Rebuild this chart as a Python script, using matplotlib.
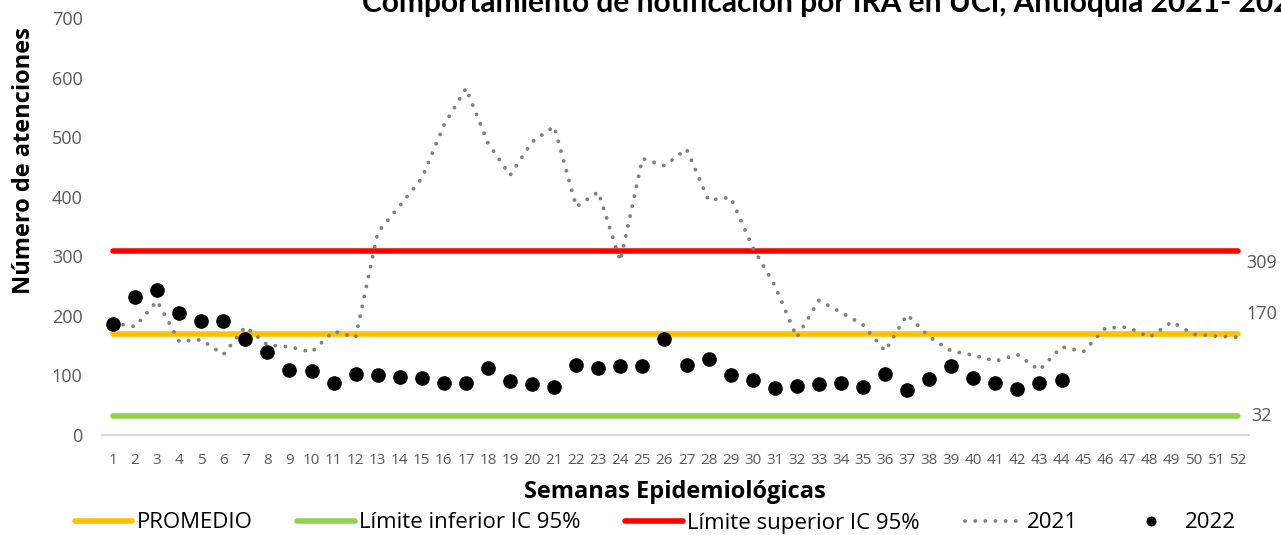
import numpy as np
import matplotlib.pyplot as plt

plt.rcParams['font.family'] = ['Open Sans', 'DejaVu Sans']

semanas = list(range(1, 53))
casos_2021 = [188, 182, 225, 157, 160, 135, 182, 151, 148, 139,
              174, 164, 340, 385, 431, 520, 582, 490, 436, 492,
              518, 383, 408, 292, 464, 452, 480, 394, 399, 315,
              251, 164, 226, 206, 185, 141, 202, 165, 141, 134,
              124, 135, 109, 148, 140, 180, 181, 164, 190, 169,
              166, 164]
casos_2022 = [187, 232, 243, 204, 191, 191, 161, 139, 109, 107,
              87, 103, 101, 97, 96, 88, 88, 112, 90, 85,
              81, 118, 112, 116, 115, 161, 118, 128, 100, 92,
              79, 83, 85, 87, 81, 102, 75, 94, 116, 95,
              88, 78, 87, 92]
promedio = 170
lim_inf = 32
lim_sup = 309

fig = plt.figure(figsize=(12.81, 5.35), dpi=100)
ax = fig.add_axes([102/1281, 100/535, (1249-102)/1281, 417/535])

n = len(semanas)
ax.plot(semanas, [promedio]*n, color='#FFC000', lw=4, solid_capstyle='round', label='PROMEDIO', zorder=2)
ax.plot(semanas, [lim_inf]*n, color='#92D050', lw=4, solid_capstyle='round', label='Límite inferior IC 95%', zorder=2)
ax.plot(semanas, [lim_sup]*n, color='#FF0000', lw=4, solid_capstyle='round', label='Límite superior IC 95%', zorder=2)
ax.plot(semanas, casos_2021, color='#808080', lw=2.8, linestyle=(0, (0.01, 2.6)),
        dash_capstyle='round', label='2021', zorder=3)
ax.plot(semanas[:len(casos_2022)], casos_2022, 'o', color='black', ms=9.5, label='2022', zorder=4)

# etiquetas de las lineas de referencia
for val, dy in [(lim_sup, -9), (promedio, 14), (lim_inf, 0)]:
    ax.annotate(str(val), xy=(52, val), xytext=(17, dy), textcoords='offset points',
                va='center', ha='center', fontsize=13, color='#595959', annotation_clip=False)

ax.set_xlim(0.5, 52.5)
ax.set_ylim(0, 700)
ax.set_xticks(semanas)
ax.set_xticklabels([str(s) for s in semanas], fontsize=11, color='#595959')
ax.set_yticks(range(0, 701, 100))
ax.tick_params(axis='y', labelsize=13, labelcolor='#595959', length=0, pad=14)
ax.tick_params(axis='x', length=0, pad=13)
for s in ['top', 'right', 'left']:
    ax.spines[s].set_visible(False)
ax.spines['bottom'].set_color('#D9D9D9')
ax.spines['bottom'].set_linewidth(1.5)

ax.set_xlabel('Semanas Epidemiológicas', fontsize=17, fontweight='bold', va='center')
ax.xaxis.set_label_coords((675-102)/1147, (435-492)/417)
ax.set_ylabel('Número de atenciones', fontsize=17, fontweight='bold', va='center')
ax.yaxis.set_label_coords((24-102)/1147, (435-161)/417)

fig.text(362/1281, 1 - 12/535, 'Comportamiento de notificación por IRA en UCI, Antioquia 2021- 2022',
         fontsize=21.5, fontweight='bold', ha='left', va='baseline', family=['Lato', 'DejaVu Sans'])

ax.legend(loc='center', bbox_to_anchor=((655-102)/1147, (435-523)/417), ncol=5, frameon=False,
          fontsize=16, handlelength=2.6, columnspacing=2.0, handletextpad=0.2, markerscale=0.65)

fig.savefig('out.png', dpi=100)
